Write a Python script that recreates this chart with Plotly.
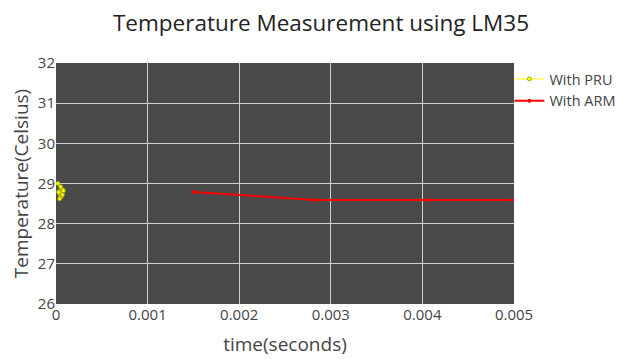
import plotly.graph_objects as go

pru_time = [0.00002, 0.00005, 0.00003, 0.00007, 0.00004, 0.00008, 0.00005, 0.00003, 0.00006, 0.00004, 0.00007]
pru_temp = [29.0, 28.92, 28.8, 28.85, 28.75, 28.82, 28.7, 28.78, 28.68, 28.62, 28.72]

arm_time = [0.0015, 0.00282, 0.00407, 0.0055]
arm_temp = [28.79, 28.59, 28.59, 28.59]

fig = go.Figure()
fig.add_trace(go.Scatter(x=pru_time, y=pru_temp, mode="lines+markers", name="With PRU",
                         line=dict(color="#ffff00", width=1),
                         marker=dict(color="#ffff00", size=4, line=dict(color="#a8a800", width=1))))
fig.add_trace(go.Scatter(x=arm_time, y=arm_temp, mode="lines+markers", name="With ARM",
                         line=dict(color="#ff0000", width=2),
                         marker=dict(color="#ff0000", size=4)))

W, H = 623, 351
fig.update_layout(
    width=W, height=H,
    title=dict(text="Temperature Measurement using LM35", x=313 / W, xanchor="center",
               yref="container", y=1 - 15 / H, yanchor="middle",
               font=dict(size=22.5, color="#222")),
    font=dict(family="Open Sans", color="#444"),
    paper_bgcolor="white", plot_bgcolor="#4a4a4a",
    margin=dict(l=48, r=117, t=55, b=55, autoexpand=False),
    legend=dict(x=0.99, y=1, bgcolor="rgba(0,0,0,0)", font=dict(size=14.5, color="#444")),
    xaxis=dict(range=[0, 0.005], dtick=0.001, automargin=False,
               title=dict(text="time(seconds)", font=dict(size=19), standoff=14),
               tickfont=dict(size=15), gridcolor="#d0d0d0", zeroline=False, showline=False),
    yaxis=dict(range=[26, 32], dtick=1, automargin=False,
               title=dict(text="Temperature(Celsius)", font=dict(size=19), standoff=12),
               tickfont=dict(size=15), gridcolor="#d0d0d0", zeroline=False, showline=False),
)
fig.write_html("out.html")
